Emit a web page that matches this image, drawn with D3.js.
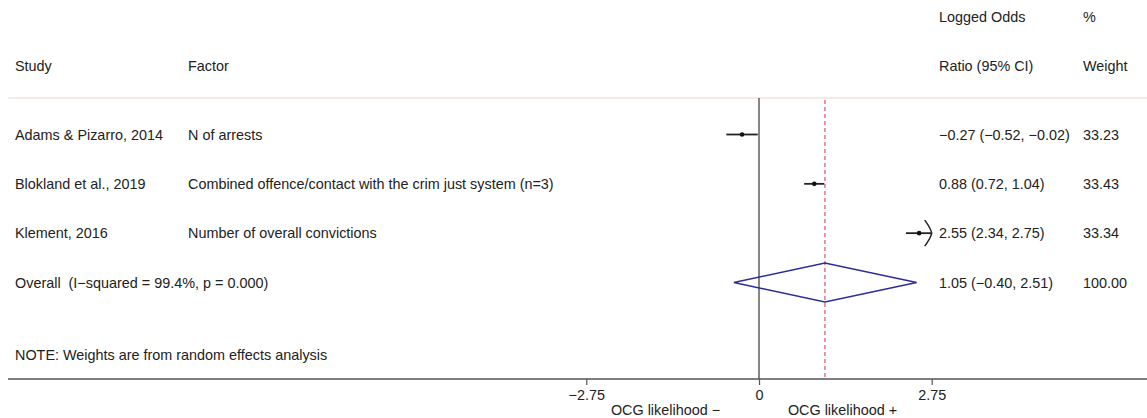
<!DOCTYPE html>
<html>
<head>
<meta charset="utf-8">
<script src="https://cdn.jsdelivr.net/npm/d3@7"></script>
<style>
  body { margin: 0; background: #fff; }
  text { font-family: "Liberation Sans", Arial, sans-serif; font-size: 14.4px; fill: #222; white-space: pre; }
</style>
</head>
<body>
<svg id="forest" width="1147" height="418"></svg>
<script>
// study rows
var studies = ["Adams & Pizarro, 2014", "Blokland et al., 2019", "Klement, 2016"];
var factors = ["N of arrests", "Combined offence/contact with the crim just system (n=3)", "Number of overall convictions"];
var estimates = [-0.27, 0.88, 2.55];
var lower = [-0.52, 0.72, 2.34];
var upper = [-0.02, 1.04, 2.75];
var weights = ["33.23", "33.43", "33.34"];
var ciLabels = ["\u22120.27 (\u22120.52, \u22120.02)", "0.88 (0.72, 1.04)", "2.55 (2.34, 2.75)"];

// pooled
var overallLabel = "Overall  (I\u2212squared = 99.4%, p = 0.000)";
var overall = {est: 1.05, lo: -0.40, hi: 2.51};
var overallCI = "1.05 (\u22120.40, 2.51)";
var overallWeight = "100.00";

var ticks = [-2.75, 0, 2.75];
var tickLabels = ["\u22122.75", "0", "2.75"];
var axisLimit = 2.75;

var svg = d3.select("#forest");

var x = d3.scaleLinear()
    .domain([-2.75, 2.75])
    .range([586.3, 931.7]);

// row index -> y
var y = d3.scaleLinear()
    .domain([0, 3])
    .range([134.5, 282.5]);

var axisY = 379,
    topY = 98;

// headers
svg.append("text").attr("x", 939).attr("y", 17).attr("dy", "0.35em").text("Logged Odds");
svg.append("text").attr("x", 1083).attr("y", 17).attr("dy", "0.35em").text("%");
svg.append("text").attr("x", 15).attr("y", 66).attr("dy", "0.35em").text("Study");
svg.append("text").attr("x", 188).attr("y", 66).attr("dy", "0.35em").text("Factor");
svg.append("text").attr("x", 939).attr("y", 66).attr("dy", "0.35em").text("Ratio (95% CI)");
svg.append("text").attr("x", 1083).attr("y", 66).attr("dy", "0.35em").text("Weight");

// separator under the header
svg.append("line")
    .attr("x1", 8).attr("x2", 1147)
    .attr("y1", topY).attr("y2", topY)
    .attr("stroke", "#efe3de")
    .attr("stroke-width", 1.5);

// no-effect line
svg.append("line")
    .attr("x1", x(0)).attr("x2", x(0))
    .attr("y1", topY).attr("y2", axisY)
    .attr("stroke", "#444")
    .attr("stroke-width", 1.3);

// overall estimate line
svg.append("line")
    .attr("x1", x(overall.est)).attr("x2", x(overall.est))
    .attr("y1", topY + 2).attr("y2", axisY)
    .attr("stroke", "#d9536b")
    .attr("stroke-width", 1.2)
    .attr("stroke-dasharray", "4,3");

// study rows
var rows = svg.append("g").selectAll("g")
    .data(studies)
    .enter().append("g");

rows.append("text")
    .attr("x", 15).attr("y", function(d, i) { return y(i); })
    .attr("dy", "0.35em")
    .text(function(d) { return d; });

rows.append("text")
    .attr("x", 188).attr("y", function(d, i) { return y(i); })
    .attr("dy", "0.35em")
    .text(function(d, i) { return factors[i]; });

rows.append("text")
    .attr("x", 939).attr("y", function(d, i) { return y(i); })
    .attr("dy", "0.35em")
    .text(function(d, i) { return ciLabels[i]; });

rows.append("text")
    .attr("x", 1083).attr("y", function(d, i) { return y(i); })
    .attr("dy", "0.35em")
    .text(function(d, i) { return weights[i]; });

rows.append("line")
    .attr("x1", function(d, i) { return x(lower[i]); })
    .attr("x2", function(d, i) { return x(Math.min(upper[i], axisLimit)); })
    .attr("y1", function(d, i) { return y(i); })
    .attr("y2", function(d, i) { return y(i); })
    .attr("stroke", "#222")
    .attr("stroke-width", 1.8);

rows.append("circle")
    .attr("cx", function(d, i) { return x(estimates[i]); })
    .attr("cy", function(d, i) { return y(i); })
    .attr("r", 2.3)
    .attr("fill", "#111");

// arrow where CI hits the axis limit
rows.filter(function(d, i) { return upper[i] >= axisLimit; })
    .append("path")
    .attr("d", function(d) {
      var i = studies.indexOf(d), tx = x(axisLimit), ty = y(i);
      return "M" + (tx - 7) + "," + (ty - 13) + " Q" + (tx - 1) + "," + (ty - 5) + " " + tx + "," + ty +
             " Q" + (tx - 1) + "," + (ty + 5) + " " + (tx - 7) + "," + (ty + 13);
    })
    .attr("fill", "none")
    .attr("stroke", "#222")
    .attr("stroke-width", 1.5);

// overall row
var oy = y(3);
svg.append("text").attr("x", 15).attr("y", oy).attr("dy", "0.35em").text(overallLabel);
svg.append("text").attr("x", 939).attr("y", oy).attr("dy", "0.35em").text(overallCI);
svg.append("text").attr("x", 1083).attr("y", oy).attr("dy", "0.35em").text(overallWeight);

svg.append("path")
    .datum([[overall.lo, 0], [overall.est, -19.5], [overall.hi, 0], [overall.est, 19.5]])
    .attr("d", function(d) {
      return "M" + d.map(function(p) { return x(p[0]) + "," + (oy + p[1]); }).join("L") + "Z";
    })
    .attr("fill", "none")
    .attr("stroke", "#2c2c99")
    .attr("stroke-width", 1.5);

svg.append("text").attr("x", 15).attr("y", 355).attr("dy", "0.35em")
    .text("NOTE: Weights are from random effects analysis");

// x axis
svg.append("line")
    .attr("x1", 8).attr("x2", 1147)
    .attr("y1", axisY).attr("y2", axisY)
    .attr("stroke", "#555")
    .attr("stroke-width", 1.5);

var axis = svg.append("g")
    .attr("transform", "translate(0," + axisY + ")")
    .call(d3.axisBottom(x).tickValues(ticks).tickSize(6).tickPadding(5)
      .tickFormat(function(d, i) { return tickLabels[i]; }));
axis.select(".domain").remove();
axis.selectAll(".tick line").attr("stroke", "#555").attr("stroke-width", 1.2);
axis.selectAll(".tick text")
    .attr("fill", "#222")
    .style("font-family", "\"Liberation Sans\", Arial, sans-serif")
    .style("font-size", "14.4px");

svg.append("text").attr("x", x(-0.62)).attr("y", 410).attr("dy", "0.35em")
    .attr("text-anchor", "end").text("OCG likelihood \u2212");
svg.append("text").attr("x", x(0.46)).attr("y", 410).attr("dy", "0.35em")
    .attr("text-anchor", "start").text("OCG likelihood +");
</script>
</body>
</html>
